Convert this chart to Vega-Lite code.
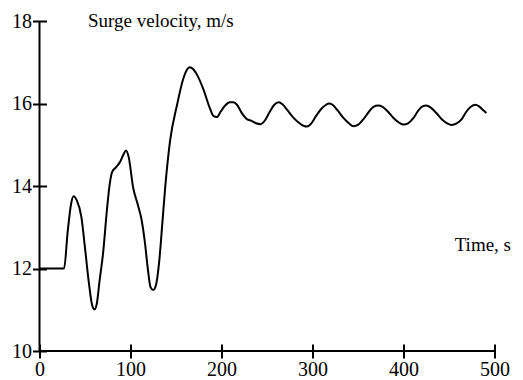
{
  "$schema": "https://vega.github.io/schema/vega-lite/v6.json",
  "width": 455,
  "height": 330,
  "autosize": {"type": "none"},
  "padding": {"left": 39.5, "top": 21, "right": 28.5, "bottom": 29},
  "background": "white",
  "config": {
    "view": {"stroke": "black", "strokeWidth": 2, "strokeDash": [0, 785, 785]},
    "font": "Liberation Serif",
    "axis": {"labelFont": "Liberation Serif", "titleFont": "Liberation Serif", "labelColor": "black", "titleColor": "black", "tickColor": "black", "domainColor": "black", "grid": false, "ticks": true, "tickOpacity": 1}
  },
  "data": {"values": [
    {"t":0,"v":12.0},{"t":27,"v":12.0},{"t":31,"v":12.9},{"t":35,"v":13.6},{"t":37.5,"v":13.75},{"t":41,"v":13.65},{"t":46,"v":13.25},{"t":50,"v":12.5},{"t":54,"v":11.7},{"t":58,"v":11.1},{"t":60.5,"v":11.01},{"t":63,"v":11.15},{"t":66,"v":11.7},{"t":70,"v":12.4},{"t":74,"v":13.4},{"t":77.5,"v":14.1},{"t":80,"v":14.35},{"t":84,"v":14.45},{"t":88.5,"v":14.58},{"t":92,"v":14.75},{"t":95,"v":14.86},{"t":98,"v":14.7},{"t":103,"v":13.95},{"t":108,"v":13.55},{"t":112,"v":13.2},{"t":116,"v":12.6},{"t":119,"v":12.0},{"t":122,"v":11.55},{"t":125,"v":11.48},{"t":128,"v":11.6},{"t":131.5,"v":12.16},{"t":135,"v":13.1},{"t":138,"v":13.93},{"t":143.5,"v":15.1},{"t":151,"v":15.95},{"t":158,"v":16.6},{"t":162,"v":16.82},{"t":165,"v":16.88},{"t":169,"v":16.83},{"t":173,"v":16.7},{"t":180,"v":16.35},{"t":187.5,"v":15.87},{"t":191,"v":15.7},{"t":195,"v":15.67},{"t":199,"v":15.8},{"t":204,"v":15.95},{"t":209,"v":16.03},{"t":213,"v":16.03},{"t":217,"v":15.97},{"t":222,"v":15.78},{"t":228,"v":15.62},{"t":233,"v":15.58},{"t":238,"v":15.52},{"t":243,"v":15.5},{"t":248,"v":15.6},{"t":253,"v":15.8},{"t":258,"v":15.97},{"t":263,"v":16.03},{"t":267,"v":15.98},{"t":272,"v":15.85},{"t":278,"v":15.68},{"t":284,"v":15.55},{"t":290,"v":15.46},{"t":294,"v":15.44},{"t":298,"v":15.5},{"t":304,"v":15.7},{"t":310,"v":15.88},{"t":315,"v":15.97},{"t":318,"v":16.0},{"t":322,"v":15.97},{"t":328,"v":15.82},{"t":334,"v":15.65},{"t":340,"v":15.52},{"t":345,"v":15.45},{"t":350,"v":15.48},{"t":356,"v":15.62},{"t":362,"v":15.8},{"t":367,"v":15.92},{"t":372,"v":15.95},{"t":377,"v":15.92},{"t":383,"v":15.8},{"t":389,"v":15.65},{"t":395,"v":15.54},{"t":400,"v":15.49},{"t":405,"v":15.52},{"t":411,"v":15.65},{"t":416,"v":15.82},{"t":421,"v":15.93},{"t":425,"v":15.95},{"t":430,"v":15.9},{"t":436,"v":15.77},{"t":442,"v":15.62},{"t":448,"v":15.52},{"t":453,"v":15.48},{"t":458,"v":15.51},{"t":464,"v":15.62},{"t":469,"v":15.8},{"t":474,"v":15.92},{"t":479,"v":15.97},{"t":483,"v":15.93},{"t":487,"v":15.85},{"t":491,"v":15.77}
  ]},
  "mark": {"type": "line", "color": "black", "strokeWidth": 2, "interpolate": "monotone"},
  "encoding": {
    "x": {"field": "t", "type": "quantitative", "scale": {"domain": [0, 500], "nice": false, "zero": false},
      "axis": {"values": [0, 100, 200, 300, 400, 500], "domain": false, "ticks": true, "offset": -7, "tickSize": 14, "tickWidth": 2, "labelPadding": 1, "labelFontSize": 20, "labelFlush": false,
        "title": "Time, s", "titleFontSize": 19, "titleFontWeight": "normal", "titleAlign": "right", "titleBaseline": "middle", "titleX": 471, "titleY": -100}},
    "y": {"field": "v", "type": "quantitative", "scale": {"domain": [10, 18], "nice": false, "zero": false},
      "axis": {"values": [10, 12, 14, 16, 18], "domain": false, "ticks": true, "offset": -7, "tickSize": 14, "tickWidth": 2, "labelPadding": 1, "labelFontSize": 20, "labelFlush": false,
        "title": "Surge velocity, m/s", "titleFontSize": 19, "titleFontWeight": "normal", "titleAngle": 0, "titleAlign": "left", "titleBaseline": "middle", "titleX": 41, "titleY": -1}}
  }
}
